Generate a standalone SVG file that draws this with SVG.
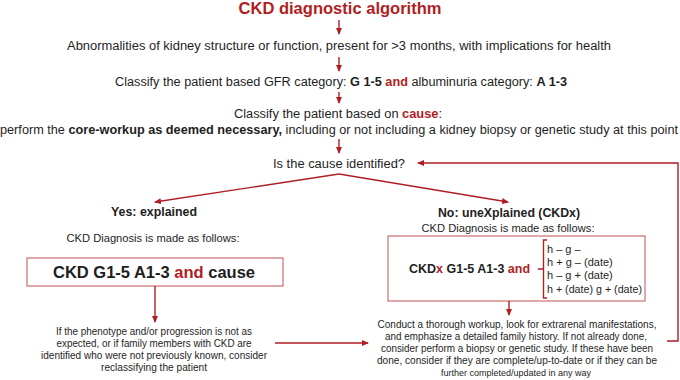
<svg xmlns="http://www.w3.org/2000/svg" width="680" height="380" viewBox="0 0 680 380">
<style>
text{font-family:"Liberation Sans",Arial,sans-serif;fill:#1e1e1e;text-anchor:middle}
.t{fill:#b01e23;font-weight:bold}
.r{fill:#b01e23}
.b{font-weight:bold}
.m{font-size:12px}
.s{font-size:10px}
.h{font-size:11px;text-anchor:start}
.c{stroke:#b01e23;stroke-width:1.4;fill:none}
.box{fill:#fff;stroke:#c0504d;stroke-width:1}
</style>
<defs>
<marker id="ah" markerWidth="7" markerHeight="6" refX="6" refY="3" orient="auto" markerUnits="userSpaceOnUse">
<path d="M0,0 L7,3 L0,6 Z" fill="#b01e23"/>
</marker>
</defs>
<g id="title"><text class="t" x="340" y="13.5" font-size="16" textLength="203" lengthAdjust="spacingAndGlyphs">CKD diagnostic algorithm</text></g>
<g id="abnormalities"><text class="m" x="339" y="50" textLength="544" lengthAdjust="spacingAndGlyphs">Abnormalities of kidney structure or function, present for &gt;3 months, with implications for health</text></g>
<g id="classify-gfr"><text class="m" x="341" y="86" textLength="452" lengthAdjust="spacingAndGlyphs">Classify the patient based GFR category: <tspan class="b">G 1-5 </tspan><tspan class="b r">and</tspan> albuminuria category: <tspan class="b">A 1-3</tspan></text></g>
<g id="classify-cause">
<text class="m" x="338" y="118" textLength="208" lengthAdjust="spacingAndGlyphs">Classify the patient based on <tspan class="b r">cause</tspan>:</text>
<text class="m" x="339" y="134" textLength="678" lengthAdjust="spacingAndGlyphs">perform the <tspan class="b">core-workup as deemed necessary,</tspan> including or not including a kidney biopsy or genetic study at this point</text>
</g>
<g id="question"><text class="m" x="339" y="168" textLength="132" lengthAdjust="spacingAndGlyphs">Is the cause identified?</text></g>
<g id="explained">
<text class="b" x="154" y="216" font-size="12" textLength="86" lengthAdjust="spacingAndGlyphs">Yes: explained</text>
<text x="153" y="242" font-size="11" textLength="173" lengthAdjust="spacingAndGlyphs">CKD Diagnosis is made as follows:</text>
<rect class="box" x="27" y="258" width="256" height="28"/>
<text class="b" x="154" y="278" font-size="16.5">CKD G1-5 A1-3 <tspan class="r">and</tspan> cause</text>
</g>
<g id="reclassify">
<text class="s" x="154" y="335" textLength="196" lengthAdjust="spacingAndGlyphs">If the phenotype and/or progression is not as</text>
<text class="s" x="154" y="347" textLength="195" lengthAdjust="spacingAndGlyphs">expected, or if family members with CKD are</text>
<text class="s" x="154" y="359" textLength="226" lengthAdjust="spacingAndGlyphs">identified who were not previously known, consider</text>
<text class="s" x="154" y="371" textLength="106" lengthAdjust="spacingAndGlyphs">reclassifying the patient</text>
</g>
<g id="unexplained">
<text class="b" x="509" y="217" font-size="12" textLength="142" lengthAdjust="spacingAndGlyphs">No: uneXplained (CKDx)</text>
<text x="508" y="232" font-size="11" textLength="173" lengthAdjust="spacingAndGlyphs">CKD Diagnosis is made as follows:</text>
<rect class="box" x="388" y="236" width="257" height="65"/>
<text class="b" x="469.5" y="273" font-size="12.5">CKD<tspan class="r">x</tspan> G1-5 A1-3 <tspan class="r">and</tspan></text>
<path class="c" d="M547,240 L543.5,240 L543.5,298 L547,298 M543.5,269 L538,269" stroke-width="1.6"/>
<text class="h" x="547" y="253">h – g –</text>
<text class="h" x="547" y="266">h + g – (date)</text>
<text class="h" x="547" y="279">h – g + (date)</text>
<text class="h" x="547" y="293" textLength="95" lengthAdjust="spacingAndGlyphs">h + (date) g + (date)</text>
</g>
<g id="workup">
<text class="s" x="517" y="328" textLength="279" lengthAdjust="spacingAndGlyphs">Conduct a thorough workup, look for extrarenal manifestations,</text>
<text class="s" x="516" y="340" textLength="262" lengthAdjust="spacingAndGlyphs">and emphasize a detailed family history. If not already done,</text>
<text class="s" x="517" y="352" textLength="272" lengthAdjust="spacingAndGlyphs">consider perform a biopsy or genetic study. If these have been</text>
<text class="s" x="517" y="364" textLength="280" lengthAdjust="spacingAndGlyphs">done, consider if they are complete/up-to-date or if they can be</text>
<text x="516" y="376" font-size="9.5" textLength="150" lengthAdjust="spacingAndGlyphs">further completed/updated in any way</text>
</g>
<g id="connectors">
<line class="c" x1="339" y1="20" x2="339" y2="34" marker-end="url(#ah)"/>
<line class="c" x1="339" y1="57" x2="339" y2="71" marker-end="url(#ah)"/>
<line class="c" x1="339" y1="92" x2="339" y2="103" marker-end="url(#ah)"/>
<line class="c" x1="339" y1="139" x2="339" y2="153" marker-end="url(#ah)"/>
<line class="c" x1="339" y1="174" x2="155" y2="202" marker-end="url(#ah)" stroke-width="1.6"/>
<line class="c" x1="339" y1="174" x2="508" y2="202" marker-end="url(#ah)" stroke-width="1.6"/>
<line class="c" x1="155" y1="286" x2="155" y2="322" marker-end="url(#ah)"/>
<line class="c" x1="509" y1="301" x2="509" y2="315" marker-end="url(#ah)"/>
<line class="c" x1="275" y1="343" x2="368" y2="343" marker-end="url(#ah)"/>
<polyline class="c" points="667,341 678,341 678,163 418,163" marker-end="url(#ah)"/>
</g>
</svg>
